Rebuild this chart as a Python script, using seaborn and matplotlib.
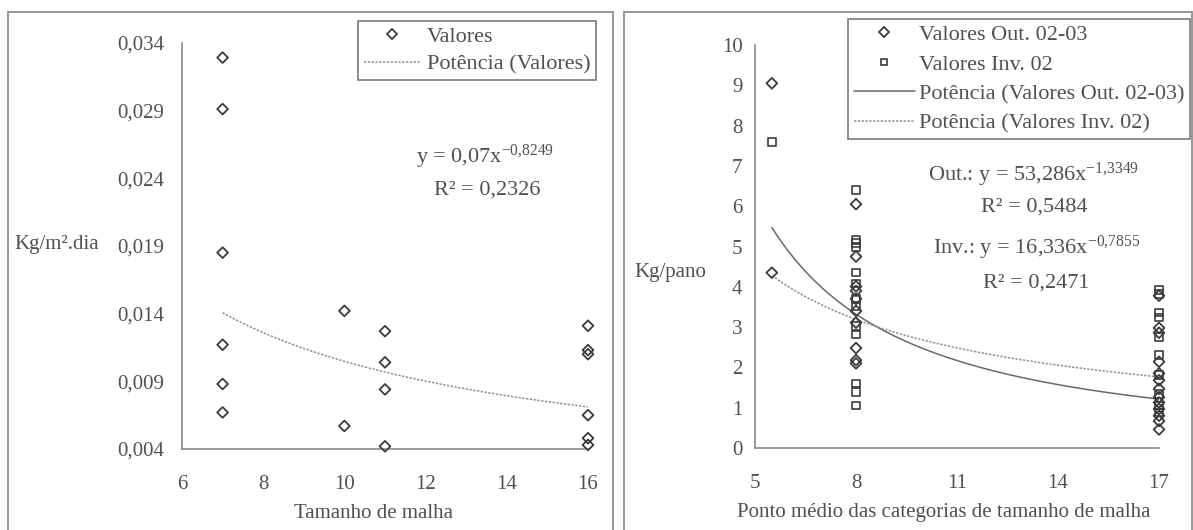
import numpy as np
import pandas as pd
import matplotlib
matplotlib.use("Agg")
import matplotlib.pyplot as plt
from matplotlib.patches import Rectangle
from matplotlib.lines import Line2D
import seaborn as sns

# painel esquerdo: Kg/m2.dia por tamanho de malha
malha = [7, 7, 7, 7, 7, 7, 10, 10, 11, 11, 11, 11, 16, 16, 16, 16, 16, 16]
kg_m2_dia = [0.0329, 0.0291, 0.0185, 0.0117, 0.0088, 0.0067,
             0.0142, 0.0057,
             0.0127, 0.0104, 0.0084, 0.0042,
             0.0131, 0.0113, 0.0110, 0.0065, 0.0048, 0.0043]
coef_esq = (0.07, -0.8249)
r2_esq = "0,2326"

# painel direito: Kg/pano por ponto medio das categorias
x_out = [5.5, 5.5] + [8] * 10 + [17] * 13
y_out = [9.05, 4.35,
         6.05, 4.75, 4.01, 3.90, 3.70, 3.40, 3.11, 2.48, 2.18, 2.10,
         3.78, 2.98, 2.86, 2.14, 1.85, 1.68, 1.47, 1.26, 1.13, 0.97, 0.80, 0.67, 0.46]
x_inv = [5.5] + [8] * 13 + [17] * 10
y_inv = [7.60,
         6.40, 5.17, 5.08, 4.98, 4.35, 4.08, 3.70, 3.53, 3.03, 2.82, 1.60, 1.39, 1.05,
         3.92, 3.82, 3.36, 3.24, 2.75, 2.31, 1.81, 1.34, 1.05, 0.88]
coef_out = (53.286, -1.3349)
coef_inv = (16.336, -0.7855)
r2_out = "0,5484"
r2_inv = "0,2471"

sns.set_style("white")
plt.rcParams["font.family"] = ["Liberation Serif", "DejaVu Serif"]
plt.rcParams["mathtext.fontset"] = "custom"
plt.rcParams["mathtext.rm"] = "Liberation Serif"
plt.rcParams["mathtext.it"] = "Liberation Serif:italic"

txt = "#505050"
axc = "#808080"
mk = "#3c3c3c"
fs_tick = 15
fs_lab = 15
fs_leg = 16
fs_eq = 16

fig = plt.figure(figsize=(11.93, 5.30), dpi=100)
W, H = 1193, 530

def fx(p):
    return p / W

def fy(p):
    return 1 - p / H

# molduras dos dois graficos
fig.patches.append(Rectangle((fx(8), fy(540)), fx(605), 528 / H, transform=fig.transFigure,
                             fill=False, edgecolor="#909090", lw=1.3))
fig.patches.append(Rectangle((fx(624), fy(540)), fx(568), 528 / H, transform=fig.transFigure,
                             fill=False, edgecolor="#909090", lw=1.3))

def style_axes(ax, ypad):
    for s in ["top", "right"]:
        ax.spines[s].set_visible(False)
    for s in ["left", "bottom"]:
        ax.spines[s].set_color(axc)
        ax.spines[s].set_linewidth(1.1)
    ax.tick_params(direction="out", length=5, width=1, color=axc,
                   labelsize=fs_tick, labelcolor=txt)
    ax.tick_params(axis="y", pad=ypad)
    ax.tick_params(axis="x", pad=14)
    ax.set_facecolor("none")

def comma(v, fmt):
    return (fmt % v).replace(".", ",")

# ---- esquerdo
ax1 = fig.add_axes([fx(182), fy(449), fx(588 - 182), (449 - 42.7) / H])
df1 = pd.DataFrame({"malha": malha, "kg": kg_m2_dia})
sns.scatterplot(data=df1, x="malha", y="kg", ax=ax1, marker="D", s=30,
                color="none", edgecolor=mk, linewidth=1.3, clip_on=False, zorder=3)
xs = np.linspace(min(malha), max(malha), 100)
ax1.plot(xs, coef_esq[0] * xs ** coef_esq[1], ls=(0, (1.5, 1)), color="#8f8f8f", lw=1.1)
ax1.set_xlim(6, 16)
ax1.set_ylim(0.004, 0.034)
yt1 = [0.004, 0.009, 0.014, 0.019, 0.024, 0.029, 0.034]
ax1.set_yticks(yt1)
ax1.set_yticklabels([comma(v, "%.3f") for v in yt1])
ax1.set_xticks([6, 8, 10, 12, 14, 16])
style_axes(ax1, 8)
ax1.set_xlabel("")
ax1.set_ylabel("")
fig.text(fx(57), fy(245), "Kg/m²" + ".dia", ha="center", va="center", fontsize=fs_lab, color=txt)
fig.text(fx(373), fy(513), "Tamanho de malha", ha="center", va="center", fontsize=fs_lab, color=txt)
fig.text(fx(485), fy(157), r"y = 0,07x$^{-0{,}8249}$", ha="center", va="center", fontsize=fs_eq, color=txt)
fig.text(fx(487), fy(190), "R² = " + r2_esq, ha="center", va="center", fontsize=fs_eq, color=txt)

h1 = [Line2D([], [], ls="none", marker="D", ms=5, mfc="none", mec=mk, mew=1.3),
      Line2D([], [], ls=(0, (1.5, 1)), color="#8f8f8f", lw=1.1)]
leg1 = ax1.legend(h1, ["Valores", "Potência (Valores)"], loc="upper left",
                  bbox_to_anchor=(fx(358), fy(21)), bbox_transform=fig.transFigure,
                  fontsize=fs_leg, frameon=True, fancybox=False, framealpha=1,
                  edgecolor="#707070", borderpad=0.25, labelspacing=0.3,
                  handlelength=2.6, handletextpad=0.25, borderaxespad=0)
leg1.get_frame().set_linewidth(1.1)
for t in leg1.get_texts():
    t.set_color(txt)

# ---- direito
ax2 = fig.add_axes([fx(755), fy(448), fx(1159 - 755), (448 - 45) / H])
df_out = pd.DataFrame({"x": x_out, "y": y_out})
df_inv = pd.DataFrame({"x": x_inv, "y": y_inv})
sns.scatterplot(data=df_inv, x="x", y="y", ax=ax2, marker="s", s=30,
                color="none", edgecolor=mk, linewidth=1.2, clip_on=False, zorder=3)
sns.scatterplot(data=df_out, x="x", y="y", ax=ax2, marker="D", s=30,
                color="none", edgecolor=mk, linewidth=1.3, clip_on=False, zorder=3)
xs2 = np.linspace(5.5, 17, 150)
ax2.plot(xs2, coef_out[0] * xs2 ** coef_out[1], ls="-", color="#6a6a6a", lw=1.1)
ax2.plot(xs2, coef_inv[0] * xs2 ** coef_inv[1], ls=(0, (1.5, 1)), color="#8f8f8f", lw=1.1)
ax2.set_xlim(5, 17)
ax2.set_ylim(0, 10)
ax2.set_xticks([5, 8, 11, 14, 17])
ax2.set_yticks(range(0, 11))
style_axes(ax2, 4)
ax2.set_xlabel("")
ax2.set_ylabel("")
fig.text(fx(670), fy(272), "Kg/pano", ha="center", va="center", fontsize=fs_lab, color=txt)
fig.text(fx(944), fy(513), "Ponto médio das categorias de tamanho de malha",
         ha="center", va="center", fontsize=fs_lab, color=txt)
fig.text(fx(1033), fy(175), r"Out.: y = 53,286x$^{-1{,}3349}$", ha="center", va="center", fontsize=fs_eq, color=txt)
fig.text(fx(1034), fy(207), "R² = " + r2_out, ha="center", va="center", fontsize=fs_eq, color=txt)
fig.text(fx(1037), fy(248), r"Inv.: y = 16,336x$^{-0{,}7855}$", ha="center", va="center", fontsize=fs_eq, color=txt)
fig.text(fx(1036), fy(283), "R² = " + r2_inv, ha="center", va="center", fontsize=fs_eq, color=txt)

h2 = [Line2D([], [], ls="none", marker="D", ms=5, mfc="none", mec=mk, mew=1.3),
      Line2D([], [], ls="none", marker="s", ms=5, mfc="none", mec=mk, mew=1.2),
      Line2D([], [], ls="-", color="#6a6a6a", lw=1.1),
      Line2D([], [], ls=(0, (1.5, 1)), color="#8f8f8f", lw=1.1)]
leg2 = ax2.legend(h2, ["Valores Out. 02-03", "Valores Inv. 02",
                       "Potência (Valores Out. 02-03)", "Potência (Valores Inv. 02)"],
                  loc="upper left", bbox_to_anchor=(fx(848), fy(19)), bbox_transform=fig.transFigure,
                  fontsize=fs_leg, frameon=True, fancybox=False, framealpha=1,
                  edgecolor="#707070", borderpad=0.25, labelspacing=0.4,
                  handlelength=2.75, handletextpad=0.2, borderaxespad=0)
leg2.get_frame().set_linewidth(1.1)
for t in leg2.get_texts():
    t.set_color(txt)

fig.savefig("out.png", dpi=100)
